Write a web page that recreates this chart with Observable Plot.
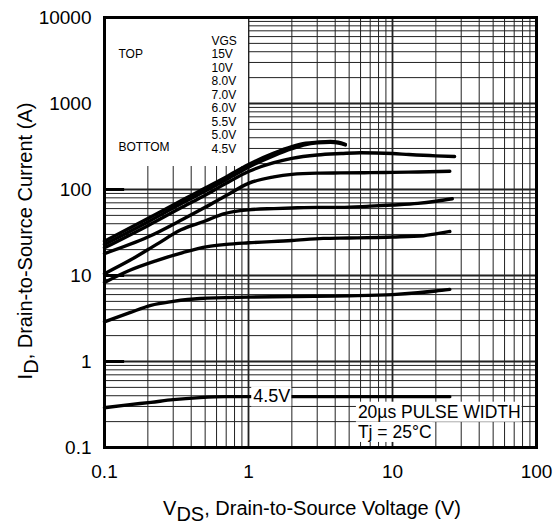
<!DOCTYPE html>
<html>
<head>
<meta charset="utf-8">
<script src="https://cdn.jsdelivr.net/npm/d3@7"></script>
<script src="https://cdn.jsdelivr.net/npm/@observablehq/plot@0.6"></script>
<style>
  body { margin: 0; background: #fff; }
  #chart { width: 553px; height: 529px; }
  #chart svg { font-family: "Liberation Sans", Arial, sans-serif; }
</style>
</head>
<body>
<div id="chart"></div>
<script>
// ---- data ----
const seriesNames = ["15V", "10V", "8.0V", "7.0V", "6.0V", "5.5V", "5.0V", "4.5V"];

const vds_15V = [0.1, 0.2, 0.35, 0.5, 0.7, 1, 1.5, 2, 2.5, 3, 3.7, 4.2, 4.7];
const id_15V  = [25, 46, 76, 104, 140, 195, 265, 315, 345, 355, 362, 355, 335];

const vds_10V = [0.1, 0.2, 0.35, 0.5, 0.7, 1, 1.5, 2, 2.5, 3, 3.7, 4.3, 4.7];
const id_10V  = [23, 42, 70, 96, 130, 182, 248, 298, 333, 348, 355, 345, 330];

const vds_8V = [0.1, 0.2, 0.35, 0.5, 0.7, 1, 1.5, 2, 3, 4.4, 6, 10, 13, 20, 27];
const id_8V  = [21, 38, 63, 86, 118, 162, 205, 230, 252, 262, 268, 262, 255, 246, 242];

const vds_7V = [0.1, 0.2, 0.35, 0.5, 0.7, 1, 1.5, 2, 3, 4.35, 7, 10, 15, 25];
const id_7V  = [18, 28, 45, 62, 85, 118, 140, 150, 155, 156, 157, 158, 160, 163];

const vds_6V = [0.1, 0.15, 0.23, 0.34, 0.5, 0.67, 1, 1.5, 2, 3, 4.35, 7, 10, 15, 20, 26];
const id_6V  = [10.5, 15, 23, 34, 43, 52, 58, 60, 61, 62, 62, 64, 66, 69, 73, 78];

const vds_55V = [0.1, 0.15, 0.23, 0.35, 0.52, 0.7, 1, 2, 3.3, 5, 10, 16.4, 20, 25];
const id_55V  = [8.3, 11.5, 14.9, 18.5, 21.7, 23, 24, 25.5, 27, 27.3, 28, 29, 30.5, 32.5];

const vds_5V = [0.1, 0.15, 0.21, 0.3, 0.46, 1, 2, 5, 10, 15, 20, 25];
const id_5V  = [2.9, 3.7, 4.5, 5.0, 5.4, 5.6, 5.7, 5.8, 6.0, 6.3, 6.6, 6.9];

const vds_45V = [0.1, 0.15, 0.21, 0.3, 0.46, 0.7, 1, 5, 25];
const id_45V  = [0.29, 0.315, 0.335, 0.36, 0.38, 0.39, 0.39, 0.39, 0.39];

const xTicks = [0.1, 1, 10, 100];
const yTicks = [0.1, 1, 10, 100, 1000, 10000];
const legendHeader = "VGS";
const legendTop = "TOP";
const legendBottom = "BOTTOM";
const curveLabel = "4.5V";
const noteLine1 = "20µs PULSE WIDTH";
const noteLine2 = "Tj = 25°C";

// ---- build table ----
const seriesArrays = [
  [vds_15V, id_15V], [vds_10V, id_10V], [vds_8V, id_8V], [vds_7V, id_7V],
  [vds_6V, id_6V], [vds_55V, id_55V], [vds_5V, id_5V], [vds_45V, id_45V]
];
const rows = seriesArrays.flatMap(([v, i], k) => v.map((vv, j) => ({vgs: seriesNames[k], vds: vv, id: i[j]})));

// grid values: every 1..9 multiple per decade
const gridX = [], gridY = [];
for (let e = -1; e <= 1; e++) for (let m = 1; m <= 9; m++) gridX.push(+(m * 10 ** e).toPrecision(3));
gridX.push(100);
for (let e = -1; e <= 3; e++) for (let m = 1; m <= 9; m++) gridY.push(+(m * 10 ** e).toPrecision(3));
gridY.push(10000);

const font = "Liberation Sans, Arial, sans-serif";

const chart = Plot.plot({
  width: 553,
  height: 529,
  marginLeft: 104,
  marginRight: 17,
  marginTop: 17,
  marginBottom: 82,
  style: {fontFamily: font, background: "white", color: "black"},
  x: {type: "log", domain: [0.1, 100]},
  y: {type: "log", domain: [0.1, 10000]},
  marks: [
    Plot.ruleX(gridX, {stroke: "#222", strokeWidth: d => xTicks.includes(d) ? 1.8 : 1}),
    Plot.ruleY(gridY, {stroke: "#222", strokeWidth: d => yTicks.includes(d) ? 1.8 : 1}),
    // white legend area
    Plot.rect([0], {x1: 0.1, x2: 1, y1: 185, y2: 10000, fill: "white"}),
    // short thick decade marks on the left edge
    Plot.ruleY([0.1, 1, 10, 100], {x1: 0.1, x2: 0.138, stroke: "black", strokeWidth: 3}),
    Plot.line(rows, {x: "vds", y: "id", z: "vgs", stroke: "black", strokeWidth: 3.4, curve: "monotone-x", strokeLinecap: "round"}),
    Plot.frame({stroke: "black", strokeWidth: 3}),
    Plot.axisX(xTicks, {tickSize: 0, tickPadding: 17, fontSize: 19, tickFormat: d => String(d), label: null}),
    Plot.axisY(yTicks, {tickSize: 0, tickPadding: 13, fontSize: 19, tickFormat: d => String(d), label: null}),
    // legend
    Plot.text([[legendHeader, ...seriesNames].join("\n")], {frameAnchor: "top-left", dx: 107, dy: 18, lineAnchor: "top", textAnchor: "start", fontSize: 12, lineHeight: 1.12}),
    Plot.text([legendTop], {frameAnchor: "top-left", dx: 14, dy: 31.5, lineAnchor: "top", textAnchor: "start", fontSize: 12}),
    Plot.text([legendBottom], {frameAnchor: "top-left", dx: 14, dy: 125, lineAnchor: "top", textAnchor: "start", fontSize: 12}),
    // annotations
    Plot.text([curveLabel], {x: 1.45, y: 0.39, fontSize: 18, textAnchor: "middle"}),
    Plot.text([noteLine1], {x: 5.75, y: 0.258, fontSize: 17.5, textAnchor: "start", letterSpacing: 1.2}),
    Plot.text([noteLine2], {x: 5.75, y: 0.15, fontSize: 17.5, textAnchor: "start", letterSpacing: 1.2})
  ]
});

document.getElementById("chart").appendChild(chart);

const svg = d3.select(chart);
// white boxes behind annotation labels
const boxed = new Set([curveLabel, noteLine1, noteLine2]);
svg.selectAll("text").filter(function () { return boxed.has(this.textContent); }).each(function () {
  const b = this.getBBox();
  const t = this.getAttribute("transform");
  d3.select(this.parentNode).insert("rect", () => this)
    .attr("x", b.x - 2).attr("y", b.y).attr("width", b.width + 3).attr("height", b.height)
    .attr("transform", t).attr("fill", "white");
});

// axis titles with subscripts
const xt = svg.append("text").attr("x", 312).attr("y", 515).attr("text-anchor", "middle")
  .attr("font-size", 20).attr("font-family", font).attr("fill", "black");
xt.append("tspan").text("V");
xt.append("tspan").attr("dy", 6).text("DS");
xt.append("tspan").attr("dy", -6).text(", Drain-to-Source Voltage (V)");

const yt = svg.append("text").attr("transform", "translate(32,241) rotate(-90)").attr("text-anchor", "middle")
  .attr("font-size", 20).attr("font-family", font).attr("fill", "black");
yt.append("tspan").text("I");
yt.append("tspan").attr("dy", 6).text("D");
yt.append("tspan").attr("dy", -6).text(", Drain-to-Source Current (A)");
</script>
</body>
</html>
